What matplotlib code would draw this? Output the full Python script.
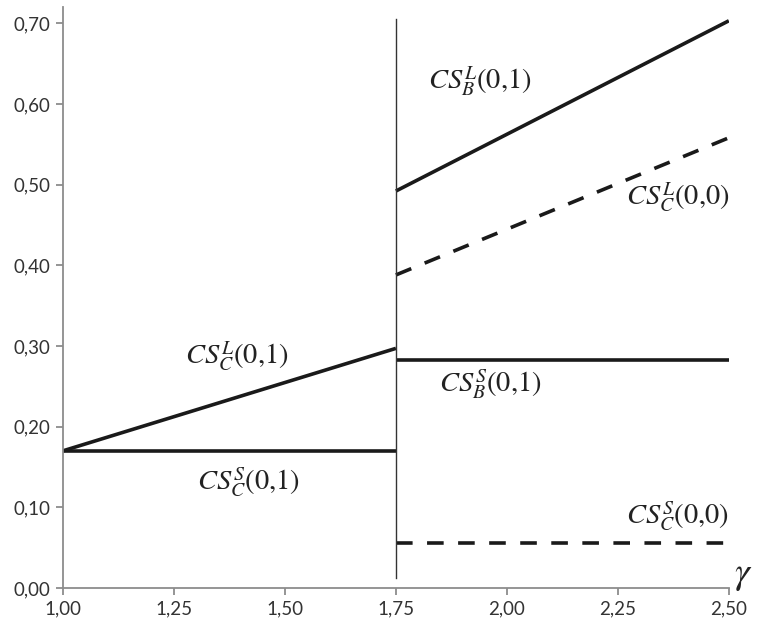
import matplotlib
matplotlib.use("Agg")
import matplotlib.pyplot as plt

plt.rcParams['mathtext.fontset'] = 'stix'

# data
x_left = [1.00, 1.75]
cs_c_l_01 = [0.170, 0.297]
cs_c_s_01 = [0.170, 0.170]
x_right = [1.75, 2.50]
cs_b_l_01 = [0.492, 0.703]
cs_c_l_00 = [0.388, 0.558]
cs_b_s_01 = [0.282, 0.282]
cs_c_s_00 = [0.056, 0.056]
threshold = 1.75
threshold_top = 0.705
threshold_bottom = 0.012

xticks = [1.00, 1.25, 1.50, 1.75, 2.00, 2.25, 2.50]
yticks = [0.00, 0.10, 0.20, 0.30, 0.40, 0.50, 0.60, 0.70]

labels = [
    (r'$CS_C^L(0{,}1)$', 1.392, 0.286),
    (r'$CS_C^S(0{,}1)$', 1.419, 0.130),
    (r'$CS_B^L(0{,}1)$', 1.939, 0.627),
    (r'$CS_C^L(0{,}0)$', 2.385, 0.483),
    (r'$CS_B^S(0{,}1)$', 1.962, 0.252),
    (r'$CS_C^S(0{,}0)$', 2.385, 0.088),
]

fig = plt.figure(figsize=(7.68, 6.26), dpi=100)
ax = fig.add_axes([0.082, 0.0607, 0.867, 0.928])

lw = 2.6
ax.plot(x_left, cs_c_l_01, color='#1a1a1a', lw=lw, solid_capstyle='butt')
ax.plot(x_left, cs_c_s_01, color='#1a1a1a', lw=lw, solid_capstyle='butt')
ax.plot(x_right, cs_b_l_01, color='#1a1a1a', lw=lw, solid_capstyle='butt')
ax.plot(x_right, cs_c_l_00, color='#1a1a1a', lw=lw, dashes=(4.6, 4.0))
ax.plot(x_right, cs_b_s_01, color='#1a1a1a', lw=lw, solid_capstyle='butt')
ax.plot(x_right, cs_c_s_00, color='#1a1a1a', lw=lw, dashes=(4.6, 4.0))
ax.plot([threshold, threshold], [threshold_bottom, threshold_top], color='#333333', lw=1.0)

for txt, x, y in labels:
    ax.text(x, y, txt, fontsize=20.5, ha='center', va='center', color='#222222')

ax.set_xlim(1.0, 2.5)
ax.set_ylim(0.0, 0.72)
ax.set_xticks(xticks)
ax.set_yticks(yticks)
ax.set_xticklabels([f'{v:.2f}'.replace('.', ',') for v in xticks])
ax.set_yticklabels([f'{v:.2f}'.replace('.', ',') for v in yticks])

for s in ['top', 'right']:
    ax.spines[s].set_visible(False)
for s in ['left', 'bottom']:
    ax.spines[s].set_color('#8c8c8c')
    ax.spines[s].set_linewidth(1.3)

ax.tick_params(axis='both', colors='#8c8c8c', width=1.3, length=5, direction='out',
               labelcolor='#333333', labelsize=13.5)
for lab in ax.get_xticklabels() + ax.get_yticklabels():
    lab.set_family('Lato')
ax.tick_params(axis='x', pad=4)
ax.tick_params(axis='y', pad=4)

ax.text(1.008, 0.022, r'$\gamma$', transform=ax.transAxes, fontsize=27,
        ha='left', va='center', color='#222222', clip_on=False)

fig.savefig('out.png', dpi=100)
